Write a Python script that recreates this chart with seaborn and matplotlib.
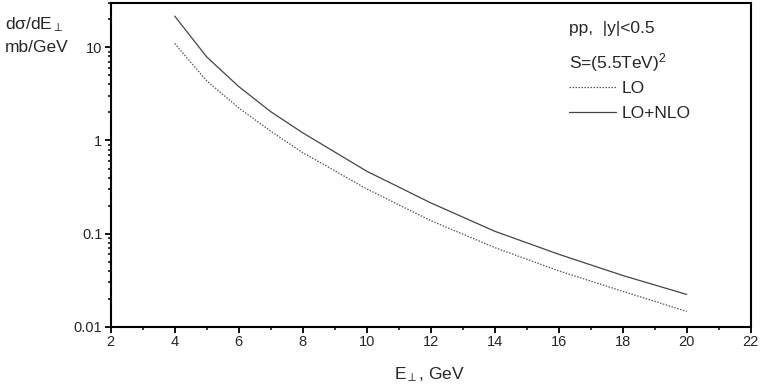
import numpy as np
import pandas as pd
import matplotlib
matplotlib.use("Agg")
import matplotlib.pyplot as plt
import seaborn as sns
from matplotlib.ticker import FixedLocator, LogLocator, NullFormatter, FuncFormatter, MultipleLocator
from matplotlib.lines import Line2D

# ---- data ----
e_perp = [4, 5, 6, 7, 8, 10, 12, 14, 16, 18, 20]
lo = [11.0, 4.37, 2.24, 1.26, 0.741, 0.302, 0.138, 0.0708, 0.0398, 0.024, 0.0146]
lo_nlo = [21.7, 7.9, 3.8, 2.04, 1.21, 0.468, 0.214, 0.106, 0.060, 0.0355, 0.0222]
series_names = ["LO", "LO+NLO"]
x_ticks = [2, 4, 6, 8, 10, 12, 14, 16, 18, 20, 22]
y_ticks = [0.01, 0.1, 1, 10]
y_tick_labels = ["0.01", "0.1", "1", "10"]

df = pd.DataFrame({
    "E": e_perp * 2,
    "val": lo + lo_nlo,
    "series": [series_names[0]] * len(e_perp) + [series_names[1]] * len(e_perp),
})

sns.set_style("ticks")
plt.rcParams["font.family"] = ["Liberation Sans", "DejaVu Sans"]
plt.rcParams["mathtext.fontset"] = "custom"
plt.rcParams["mathtext.rm"] = "Liberation Sans"
plt.rcParams["mathtext.it"] = "Liberation Sans"

fig = plt.figure(figsize=(7.63, 3.92), dpi=100)
ax = fig.add_axes([110.7 / 763, 1 - 326.7 / 392, (750.7 - 110.7) / 763, (326.7 - 2.7) / 392])

styles = {"LO": dict(color="#555555", lw=0.9, linestyle=(0, (1.2, 1.2))),
          "LO+NLO": dict(color="#444444", lw=0.9, linestyle="-")}
for name in series_names:
    sub = df[df["series"] == name]
    sns.lineplot(data=sub, x="E", y="val", ax=ax, **styles[name])

ax.set_yscale("log")
ax.set_xlim(2, 22)
ax.set_ylim(0.01, 30.2)

ax.xaxis.set_major_locator(FixedLocator(x_ticks))
ax.xaxis.set_minor_locator(MultipleLocator(1))
ax.yaxis.set_major_locator(FixedLocator(y_ticks))
ax.yaxis.set_major_formatter(FuncFormatter(lambda v, p: dict(zip(y_ticks, y_tick_labels)).get(v, "")))
ax.yaxis.set_minor_locator(LogLocator(base=10, subs=np.arange(2, 10)))
ax.yaxis.set_minor_formatter(NullFormatter())

ax.tick_params(which="major", direction="out", length=4, width=1.3, labelsize=10.5, pad=2, color="black")
ax.tick_params(which="minor", direction="out", length=2.5, width=1.1, color="black")
for lab in ax.get_xticklabels() + ax.get_yticklabels():
    lab.set_family(["Liberation Sans Narrow", "Liberation Sans", "DejaVu Sans"])
    lab.set_stretch("condensed")

for side, sp in ax.spines.items():
    sp.set_visible(True)
    sp.set_linewidth(1.5)
    sp.set_color("black")

ax.set_xlabel("")
ax.set_ylabel("")

# axis labels
fig.text(5 / 763, 1 - 25 / 392, "d\u03c3/dE$_{\\perp}$", fontsize=12.5, va="center", ha="left")
fig.text(5 / 763, 1 - 48 / 392, "mb/GeV", fontsize=12.5, va="center", ha="left")
fig.text(430 / 763, 1 - 375 / 392, "E$_{\\perp}$, GeV", fontsize=12.5, va="center", ha="center")

# annotations
fig.text(569 / 763, 1 - 29 / 392, "pp,  |y|<0.5", fontsize=12.5, va="center", ha="left")
fig.text(569 / 763, 1 - 63 / 392, "S=(5.5TeV)$^{2}$", fontsize=12.5, va="center", ha="left")

handles = [Line2D([], [], **styles[n]) for n in series_names]
leg = ax.legend(handles, series_names, loc="upper left",
                bbox_to_anchor=(569 / 763, 1 - 81 / 392), bbox_transform=fig.transFigure,
                frameon=False, fontsize=12.5, handlelength=2.7, handletextpad=0.35,
                labelspacing=0.55, borderpad=0, borderaxespad=0)

fig.savefig("out.png", dpi=100)
